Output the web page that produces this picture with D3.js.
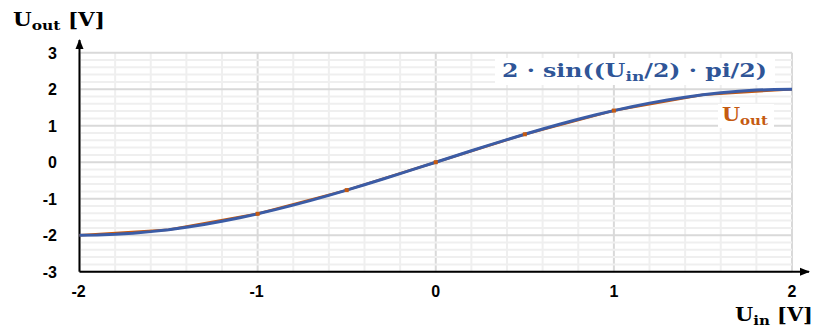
<!DOCTYPE html>
<html>
<head>
<meta charset="utf-8">
<script src="https://cdn.jsdelivr.net/npm/d3@7"></script>
<style>
  html, body { margin: 0; padding: 0; background: #fff; }
  svg { display: block; }
  .tick-label { font-family: "Liberation Sans", Arial, sans-serif; font-weight: bold; font-size: 16px; fill: #000; }
  .title { font-family: "DejaVu Serif", "Liberation Serif", serif; font-weight: bold; }
</style>
</head>
<body>
<svg id="chart" width="815" height="329"></svg>
<script>
// Input voltage samples for the reference curve 2·sin((Uin/2)·pi/2)
const curveUin = [-2, -1.9, -1.8, -1.7, -1.6, -1.5, -1.4, -1.3, -1.2, -1.1, -1, -0.9, -0.8, -0.7, -0.6, -0.5, -0.4, -0.3, -0.2, -0.1,
  0, 0.1, 0.2, 0.3, 0.4, 0.5, 0.6, 0.7, 0.8, 0.9, 1, 1.1, 1.2, 1.3, 1.4, 1.5, 1.6, 1.7, 1.8, 1.9, 2];
const curveUout = [-2, -1.994, -1.975, -1.945, -1.902, -1.848, -1.782, -1.705, -1.618, -1.521, -1.414, -1.299, -1.176, -1.045, -0.908, -0.765, -0.618, -0.467, -0.313, -0.157,
  0, 0.157, 0.313, 0.467, 0.618, 0.765, 0.908, 1.045, 1.176, 1.299, 1.414, 1.521, 1.618, 1.705, 1.782, 1.848, 1.902, 1.945, 1.975, 1.994, 2];

// Measured output points
const measUin = [-2, -1.5, -1, -0.5, 0, 0.5, 1, 1.5, 2];
const measUout = [-2, -1.848, -1.414, -0.765, 0, 0.765, 1.414, 1.848, 2];
// Measured points that carry a marker
const markUin = [-1, -0.5, 0, 0.5, 1];
const markUout = [-1.414, -0.765, 0, 0.765, 1.414];

// Axis ticks
const xTicks = [-2, -1, 0, 1, 2];
const yTicks = [3, 2, 1, 0, -1, -2, -3];

const svg = d3.select("#chart");
const x = d3.scaleLinear().domain([-2, 2]).range([79.5, 792]);
const y = d3.scaleLinear().domain([-3, 3]).range([271.7, 52.7]);

const isMajor = d => Math.abs(d - Math.round(d)) < 1e-9;

// Grid: minor every 0.2, major at integers
const grid = svg.append("g");
const gridX = d3.range(-20, 21, 2).map(d => d / 10);
const gridY = d3.range(-30, 31, 2).map(d => d / 10);
grid.selectAll("line.vx").data(gridX).join("line")
  .attr("x1", d => x(d)).attr("x2", d => x(d))
  .attr("y1", y(-3)).attr("y2", y(3))
  .attr("stroke", d => isMajor(d) ? "#d9d9d9" : "#efefef")
  .attr("stroke-width", 2);
grid.selectAll("line.hy").data(gridY).join("line")
  .attr("x1", x(-2)).attr("x2", x(2))
  .attr("y1", d => y(d)).attr("y2", d => y(d))
  .attr("stroke", d => isMajor(d) ? "#d9d9d9" : "#efefef")
  .attr("stroke-width", 2);

// Axes with arrowheads
const defs = svg.append("defs");
defs.append("marker").attr("id", "arrow")
  .attr("viewBox", "0 0 10 10").attr("refX", 9).attr("refY", 5)
  .attr("markerWidth", 5).attr("markerHeight", 5).attr("orient", "auto")
  .attr("markerUnits", "strokeWidth")
  .append("path").attr("d", "M0,1 L10,5 L0,9 Z").attr("fill", "#000");

svg.append("line")
  .attr("x1", x(-2)).attr("x2", 809)
  .attr("y1", y(-3)).attr("y2", y(-3))
  .attr("stroke", "#000").attr("stroke-width", 2).attr("marker-end", "url(#arrow)");
svg.append("line")
  .attr("x1", x(-2)).attr("x2", x(-2))
  .attr("y1", y(-3)).attr("y2", 40)
  .attr("stroke", "#000").attr("stroke-width", 2).attr("marker-end", "url(#arrow)");

// Tick labels
svg.append("g").selectAll("text").data(xTicks).join("text")
  .attr("class", "tick-label")
  .attr("x", d => x(d) + (d < 0 ? -1 : 0)).attr("y", 297)
  .attr("text-anchor", "middle")
  .text(d => d);
svg.append("g").selectAll("text").data(yTicks).join("text")
  .attr("class", "tick-label")
  .attr("x", 57).attr("y", d => y(d) + 6)
  .attr("text-anchor", "end")
  .text(d => d);

// Series
const line = d3.line().x(d => x(d[0])).y(d => y(d[1]));
const measPts = measUin.map((u, i) => [u, measUout[i]]);
const markPts = markUin.map((u, i) => [u, markUout[i]]);
const curvePts = curveUin.map((u, i) => [u, curveUout[i]]);

svg.append("path").datum(measPts)
  .attr("d", line).attr("fill", "none")
  .attr("stroke", "#c55a11").attr("stroke-width", 2.5);
svg.append("path").datum(curvePts)
  .attr("d", line).attr("fill", "none")
  .attr("stroke", "#3b5ca6").attr("stroke-width", 3)
  .attr("stroke-linejoin", "round");
svg.append("g").selectAll("rect").data(markPts).join("rect")
  .attr("x", d => x(d[0]) - 2).attr("y", d => y(d[1]) - 2)
  .attr("width", 4).attr("height", 4)
  .attr("fill", "#c55a11");

// Stretch a text element horizontally so it spans a given width from its x
function fitWidth(sel, x0, width) {
  const w = sel.node().getBBox().width;
  const k = width / w;
  sel.attr("transform", `translate(${x0 * (1 - k)},0) scale(${k},1)`);
}

// Series labels
svg.append("rect").attr("x", 495).attr("y", 58).attr("width", 280).attr("height", 27).attr("fill", "#fff");
const fLabel = svg.append("text").attr("class", "title")
  .attr("x", 502).attr("y", 77).attr("font-size", 18).attr("fill", "#2f5597");
fLabel.append("tspan").text("2 · sin((U");
fLabel.append("tspan").attr("font-size", 13).attr("dy", 4).text("in");
fLabel.append("tspan").attr("dy", -4).text("/2) · pi/2)");
fitWidth(fLabel, 502, 265);

svg.append("rect").attr("x", 718).attr("y", 104).attr("width", 56).attr("height", 24).attr("fill", "#fff");
const oLabel = svg.append("text").attr("class", "title")
  .attr("x", 722).attr("y", 121).attr("font-size", 18).attr("fill", "#c55a11");
oLabel.append("tspan").text("U");
oLabel.append("tspan").attr("font-size", 13).attr("dy", 4).text("out");
fitWidth(oLabel, 722, 46);

// Axis titles
const yTitle = svg.append("text").attr("class", "title")
  .attr("x", 13).attr("y", 26).attr("font-size", 18).attr("fill", "#000");
yTitle.append("tspan").text("U");
yTitle.append("tspan").attr("font-size", 13).attr("dy", 4).text("out");
yTitle.append("tspan").attr("dy", -4).text(" [V]");
fitWidth(yTitle, 13, 92);

const xTitle = svg.append("text").attr("class", "title")
  .attr("x", 735).attr("y", 321).attr("font-size", 18).attr("fill", "#000");
xTitle.append("tspan").text("U");
xTitle.append("tspan").attr("font-size", 13).attr("dy", 4).text("in");
xTitle.append("tspan").attr("dy", -4).text(" [V]");
fitWidth(xTitle, 735, 78);
</script>
</body>
</html>
